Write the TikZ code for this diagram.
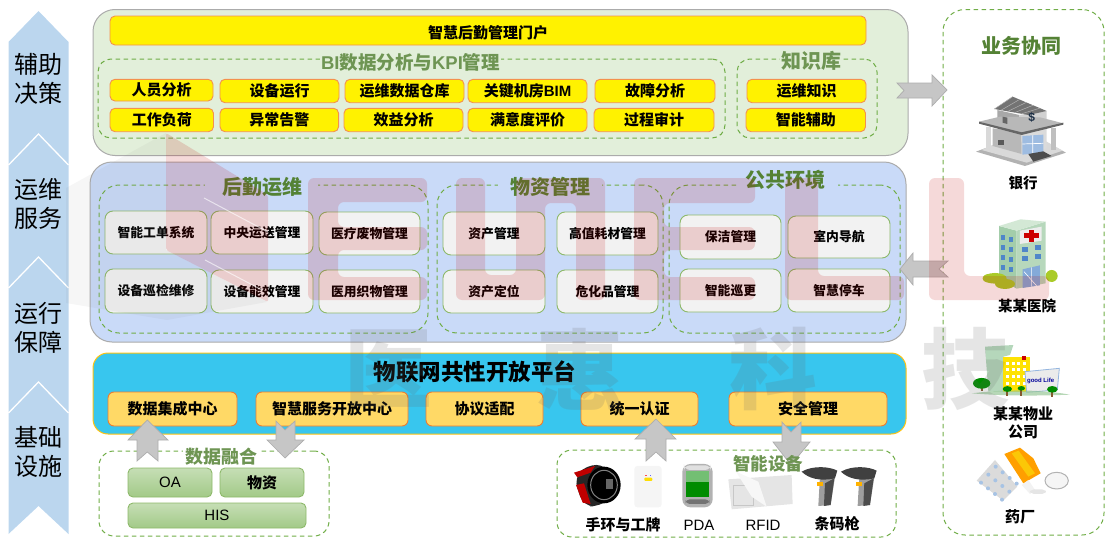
\documentclass[tikz,border=0pt]{standalone}
\usetikzlibrary{calc}
\usepackage{fontspec}
\setmainfont{Noto Sans CJK SC}
\newfontfamily\lat{Liberation Sans}
\definecolor{chev}{HTML}{BBD6EE}
\definecolor{gpanel}{HTML}{E2EFDA}
\definecolor{bpanel}{HTML}{C9DAF8}
\definecolor{cpanel}{HTML}{38C6EE}
\definecolor{edgegray}{HTML}{ABABAB}
\definecolor{dashg}{HTML}{70AD47}
\definecolor{titleg}{HTML}{548235}
\definecolor{yedge}{HTML}{F4914D}
\definecolor{oedge}{HTML}{ED7D31}
\definecolor{ofill}{HTML}{FFD966}
\definecolor{gedge}{HTML}{8DB96A}
\definecolor{arrowg}{HTML}{C6C6C6}
\definecolor{arrowe}{HTML}{ADADAD}
\definecolor{hosa}{HTML}{A3CDAA}
\definecolor{hosb}{HTML}{B7D8BC}
\definecolor{hosc}{HTML}{D3E8D5}
\definecolor{winb}{HTML}{4F86C9}
\tikzset{
  panel/.style={rounded corners=22pt,line width=1pt,draw=edgegray},
  dashbox/.style={draw=dashg,dash pattern=on 4.5pt off 3.5pt,line width=1pt},
  yellowbox/.style={draw=yedge,fill=yellow,rounded corners=5pt,line width=.9pt,font=\fontsize{15}{17}\selectfont\bfseries},
  whitebox/.style={draw=gedge,fill=black!5,rounded corners=8pt,line width=.9pt,font=\fontsize{12.8}{15}\selectfont\bfseries},
  orangebox/.style={draw=oedge,fill=ofill,rounded corners=6pt,line width=.9pt,font=\fontsize{15}{17}\selectfont\bfseries},
  greenbox/.style={draw=gedge,top color=dashg!40,bottom color=dashg!65,rounded corners=5pt,line width=.9pt,font=\fontsize{15}{17}\selectfont},
  grouptitle/.style={text=titleg,font=\fontsize{20}{22}\selectfont\bfseries,inner sep=0pt},
  softtitle/.style={text=titleg!85,inner sep=0pt},
  sidetext/.style={font=\fontsize{24}{29}\selectfont,align=center,inner sep=0pt},
  caption/.style={font=\fontsize{15}{18}\selectfont\bfseries,align=center,inner sep=0pt},
  blockarrow/.style={fill=arrowg,draw=arrowe,line width=.7pt,line join=miter},
  wmshape/.style={fill=red!75!black,fill opacity=.15,draw=none,rounded corners=6pt},
  wmtext/.style={text=black!60,text opacity=.17,font=\fontsize{88}{90}\selectfont\bfseries,inner sep=0pt},
}
\newcommand{\bx}[7]{\node[#2,inner sep=0pt,outer sep=0pt,minimum width={(#5-#3)*1pt},minimum height={(#6-#4)*1pt}] (#1) at ({(#3+#5)/2},{(#4+#6)/2}) {#7};}
\begin{document}
\begin{tikzpicture}[x=1pt,y=-1pt]
\useasboundingbox (0,0) rectangle (1114,546);
% left chevrons
\fill[chev] (8.5,42) -- (38.5,11) -- (68.5,42) -- (68.5,534) -- (38.5,506) -- (8.5,534) -- cycle;
\foreach \yy in {134,257,382}{
  \draw[white,line width=1.3pt] (8.5,\yy+31) -- (38.5,\yy) -- (68.5,\yy+31);
}
\node[sidetext] (s1) at (38.5,79) {辅助\\决策};
\node[sidetext] (s2) at (38.5,204) {运维\\服务};
\node[sidetext] (s3) at (38.5,328) {运行\\保障};
\node[sidetext] (s4) at (38.5,452) {基础\\设施};
% green panel
\bx{pg}{panel,fill=gpanel}{93}{9.5}{908}{155.5}{}
\bx{portal}{yellowbox}{110}{16}{866}{45}{\rule{0pt}{18pt}智慧后勤管理门户}
\bx{dbi}{dashbox,rounded corners=13pt}{98}{59}{725}{138}{}
\bx{dkb}{dashbox,rounded corners=13pt}{737}{59}{877}{138}{}
\node[softtitle,fill=gpanel,font=\fontsize{18.5}{22}\selectfont\bfseries,inner xsep=1pt] (tbi) at (410.5,62) {{\lat BI}数据分析与{\lat KPI}管理};
\node[softtitle,fill=gpanel,font=\fontsize{20}{22}\selectfont\bfseries,inner xsep=1pt] (tkb) at (811,61) {知识库};
\bx{a1}{yellowbox}{110}{79.3}{213}{101}{人员分析}
\bx{a2}{yellowbox}{220}{79.3}{339}{102.7}{设备运行}
\bx{a3}{yellowbox}{345}{79.3}{464}{102.7}{运维数据仓库}
\bx{a4}{yellowbox}{468}{79.3}{587}{102.7}{关键机房{\lat BIM}}
\bx{a5}{yellowbox}{595}{79.3}{715}{102.7}{故障分析}
\bx{b1}{yellowbox}{110}{108.3}{213.5}{131.7}{工作负荷}
\bx{b2}{yellowbox}{220}{108.3}{338.6}{131.7}{异常告警}
\bx{b3}{yellowbox}{344}{108.3}{463}{131.7}{效益分析}
\bx{b4}{yellowbox}{468}{108.3}{587}{131.7}{满意度评价}
\bx{b5}{yellowbox}{594}{108.3}{714}{131.7}{过程审计}
\bx{k1}{yellowbox}{747}{79.3}{866}{102.7}{运维知识}
\bx{k2}{yellowbox}{746}{108.3}{865.5}{131.7}{智能辅助}
% blue panel
\bx{pb}{panel,fill=bpanel}{90}{162}{906}{342}{}
\bx{d1}{dashbox,rounded corners=20pt}{99}{185}{428}{333}{}
\bx{d2}{dashbox,rounded corners=20pt}{437}{185}{663}{333}{}
\bx{d3}{dashbox,rounded corners=20pt}{669}{185}{900}{333}{}
\bx{g1}{fill=bpanel,draw=none}{205}{178}{318}{195}{}
\bx{g2}{fill=bpanel,draw=none}{498}{178}{602}{195}{}
\bx{g3}{fill=bpanel,draw=none}{737}{172}{838}{192}{}
\node[grouptitle] (t1) at (262,187) {后勤运维};
\node[grouptitle] (t2) at (550,187) {物资管理};
\node[grouptitle] (t3) at (785,180) {公共环境};
\bx{c1}{whitebox}{105}{211}{207}{254}{智能工单系统}
\bx{c2}{whitebox}{211}{211}{313}{254}{中央运送管理}
\bx{c3}{whitebox}{319}{212}{420}{255}{医疗废物管理}
\bx{c4}{whitebox}{105}{269}{207}{313}{设备巡检维修}
\bx{c5}{whitebox}{211}{270}{313}{313}{设备能效管理}
\bx{c6}{whitebox}{319}{270}{420}{313}{医用织物管理}
\bx{e1}{whitebox}{443}{212}{545}{255}{资产管理}
\bx{e2}{whitebox}{557}{212}{658}{255}{高值耗材管理}
\bx{e3}{whitebox}{443}{270}{545}{313}{资产定位}
\bx{e4}{whitebox}{557}{270}{658}{313}{危化品管理}
\bx{f1}{whitebox}{680}{215}{781}{259}{保洁管理}
\bx{f2}{whitebox}{788}{216}{890}{258}{室内导航}
\bx{f3}{whitebox}{680}{269}{781}{312}{智能巡更}
\bx{f4}{whitebox}{788}{269}{890}{312}{智慧停车}
% cyan panel
\bx{pc}{panel,rounded corners=15pt,fill=cpanel,draw=ofill!30!orange!60!yellow}{93}{353}{906}{434}{}
\node[inner sep=0pt,font=\fontsize{22.5}{25}\selectfont\bfseries] (tc) at (475,372) {物联网共性开放平台};
\bx{h1}{orangebox}{108}{392}{237}{426}{数据集成中心}
\bx{h2}{orangebox}{256}{392}{408}{426}{智慧服务开放中心}
\bx{h3}{orangebox}{426}{392}{543}{426}{协议适配}
\bx{h4}{orangebox}{581}{392}{698}{426}{统一认证}
\bx{h5}{orangebox}{729}{392}{887}{426}{安全管理}
% lower dashed groups
\bx{dd}{dashbox,rounded corners=15pt}{99}{451}{329}{536}{}
\bx{ds}{dashbox,rounded corners=15pt}{557}{450}{896}{537}{}
\node[softtitle,fill=white,font=\fontsize{18}{20}\selectfont\bfseries,inner xsep=2pt] (td) at (221,457) {数据融合};
\bx{o1}{greenbox}{128}{468}{212}{497}{{\lat OA}}
\bx{o2}{greenbox,font=\fontsize{15}{17}\selectfont\bfseries}{220}{468}{304}{497}{物资}
\bx{o3}{greenbox}{128}{503}{306}{528}{{\lat HIS}}
% right group
\bx{dr}{dashbox,rounded corners=22pt}{943}{9.5}{1104}{535}{}
\node[grouptitle] (tr) at (1021,46) {业务协同};
% block arrows
\draw[blockarrow] (147.3,420) -- (168,440) -- (158,440) -- (158,461) -- (147.3,452) -- (137,461) -- (137,440) -- (128,440) -- cycle;
\draw[blockarrow] (285,458) -- (304,440) -- (295,440) -- (295,421) -- (285,430) -- (276,421) -- (276,440) -- (267,440) -- cycle;
\draw[blockarrow] (656,419) -- (676,439) -- (666,439) -- (666,461) -- (656,452) -- (646,461) -- (646,439) -- (635,439) -- cycle;
\draw[blockarrow] (791,465) -- (810,442) -- (801,442) -- (801,422) -- (791,432) -- (782,422) -- (782,442) -- (773,442) -- cycle;
\draw[blockarrow] (947,90) -- (932,75) -- (932,83) -- (897,83) -- (904,90.5) -- (897,98) -- (932,98) -- (932,106) -- cycle;
\draw[blockarrow] (900,269) -- (913,253) -- (913,261) -- (948,261) -- (939,269) -- (948,277) -- (913,277) -- (913,285) -- cycle;
\node[softtitle,font=\fontsize{17.5}{20}\selectfont\bfseries] (ts) at (768,464) {智能设备};
% device icons
\begin{scope}[shift={(500,350)},x=.3333pt,y=-.3333pt]
  % watch
  \fill[black!85,rounded corners=10pt] (222,385) -- (258,345) -- (320,345) -- (350,430) -- (300,470) -- (250,468) -- cycle;
  \fill[red!75!black] (222,368) -- (285,348) -- (272,368) -- (232,382) -- cycle;
  \fill[red!75!black] (228,405) -- (252,400) -- (272,462) -- (248,458) -- cycle;
  \fill[black] (312,405) ellipse[x radius=50,y radius=55];
  \draw[black!50,line width=1pt] (312,405) ellipse[x radius=40,y radius=44];
  \fill[black!60] (318,388) rectangle (338,416);
  % badge
  \fill[black!4,rounded corners=3pt] (403,348) rectangle (485,472);
  \fill[yellow!80!orange,rounded corners=1pt] (433,383) rectangle (457,393);
  \fill[red!70] (435,374) rectangle (440,378);
  \fill[blue!60] (449,374) rectangle (454,378);
  % PDA
  \fill[black!30,rounded corners=8pt] (547,342) rectangle (638,472);
  \fill[black!12,rounded corners=6pt] (552,346) rectangle (633,360);
  \fill[green!55!black] (557,362) rectangle (628,440);
  \fill[white,opacity=.45] (557,362) rectangle (628,395);
  \fill[black!55,rounded corners=4pt] (557,448) rectangle (628,462);
  % RFID
  \fill[black!10] (685,388) -- (875,375) -- (878,462) -- (695,478) -- cycle;
  \draw[black!22,line width=.5pt] (700,405) rectangle (760,465);
  \fill[black!3] (708,365) -- (775,395) -- (800,470) -- (755,440) -- cycle;
  % scanners
  \foreach \dx in {0,118}{
    \fill[black!38] ($(960,380)+(\dx,0)$) -- ($(1005,382)+(\dx,0)$) -- ($(992,465)+(\dx,0)$) -- ($(955,468)+(\dx,0)$) -- cycle;
    \fill[black!70] ($(975,400)+(\dx,0)$) -- ($(1003,385)+(\dx,0)$) -- ($(992,465)+(\dx,0)$) -- ($(972,468)+(\dx,0)$) -- cycle;
    \fill[black!75] ($(905,365)+(\dx,0)$) .. controls ($(940,345)+(\dx,0)$) and ($(990,350)+(\dx,0)$) .. ($(1012,362)+(\dx,0)$) -- ($(1005,385)+(\dx,0)$) .. controls ($(960,395)+(\dx,0)$) and ($(925,385)+(\dx,0)$) .. cycle;
    \fill[orange!60!yellow] ($(950,395)+(\dx,0)$) rectangle ($(968,408)+(\dx,0)$);
  }
\end{scope}
\node[caption] (l1) at (623,525) {手环与工牌};
\node[caption,font=\fontsize{15}{18}\selectfont\lat] (l2) at (699,525) {PDA};
\node[caption,font=\fontsize{15}{18}\selectfont\lat] (l3) at (763,525) {RFID};
\node[caption] (l4) at (837,524) {条码枪};
% bank
\begin{scope}[shift={(900,0)},x=.3333pt,y=-.3333pt]
  \fill[black!30] (228,455) -- (300,428) -- (440,428) -- (498,458) -- (375,498) -- cycle;
  \fill[black!15] (245,450) -- (300,425) -- (440,425) -- (488,452) -- (380,488) -- cycle;
  \fill[black!28] (278,385) -- (365,395) -- (365,462) -- (278,438) -- cycle;
  \fill[black!14] (365,395) -- (440,385) -- (440,445) -- (365,462) -- cycle;
  \fill[black!34] (292,330) -- (358,345) -- (358,385) -- (292,370) -- cycle;
  \fill[black!18] (358,345) -- (440,333) -- (440,375) -- (358,385) -- cycle;
  \fill[black!55] (283,327) -- (338,290) -- (440,333) -- (385,345) -- cycle;
  \foreach \t in {0,.2,.4,.6,.8}{\draw[black!30,line width=.5pt] ($(283,327)!\t!(385,345)$) -- ($(338,290)!\t!(440,333)$);}
  \fill[black!28] (237,365) -- (300,350) -- (420,352) -- (490,370) -- (365,402) -- cycle;
  \fill[black!60] (237,365) -- (365,397) -- (490,368) -- (490,374) -- (365,405) -- (237,371) -- cycle;
  \fill[black!15] (258,380) rectangle (272,448);
  \fill[black!25] (452,383) rectangle (468,450);
  \fill[winb!55] (367,408) -- (430,404) -- (430,458) -- (367,464) -- cycle;
  \draw[white,line width=.7pt] (398,406) -- (398,461) (367,432) -- (430,430);
  \fill[black!70] (385,462) -- (430,454) -- (455,468) -- (400,485) -- cycle;
  \fill[black!60] (308,350) -- (322,353) -- (322,372) -- (308,368) -- cycle;
  \fill[black!65] (295,420) rectangle (312,435);
  \node[inner sep=0pt,text=black!65!winb,font=\fontsize{12}{12}\selectfont\bfseries\lat] (dollar) at (395,352) {\$};
  % hospital
  \fill[hosa] (297,678) -- (350,692) -- (350,866) -- (297,836) -- cycle;
  \fill[hosb] (350,692) -- (437,665) -- (437,850) -- (350,866) -- cycle;
  \fill[hosc] (297,678) -- (362,658) -- (437,665) -- (350,692) -- cycle;
  \fill[black!7] (360,692) -- (425,680) -- (425,722) -- (360,732) -- cycle;
  \fill[red!80!black] (386,690) rectangle (402,726);
  \fill[red!80!black] (373,700) rectangle (416,714);
  \foreach \yy in {705,735,765,795}{
    \fill[winb] (303,\yy) rectangle (316,\yy+16);
    \fill[winb] (326,\yy+6) rectangle (339,\yy+22);
  }
  \foreach \yy in {735,762}{
    \fill[winb] (366,\yy+6) rectangle (383,\yy+20);
    \fill[winb] (406,\yy) rectangle (422,\yy+14);
  }
  \fill[winb!70] (368,808) -- (420,796) -- (420,856) -- (368,864) -- cycle;
  \draw[white,line width=.6pt] (372,815) -- (412,860) (394,802) -- (394,860);
  \foreach \cx/\cy/\rx/\ry in {285/835/35/16,315/852/30/15,455/828/18/18,268/835/20/13}{
    \fill[yellow!70!green!90!black] (\cx,\cy) ellipse[x radius=\rx,y radius=\ry];
  }
\end{scope}
\node[caption,font=\fontsize{14.5}{18}\selectfont\bfseries] (l5) at (1023,183) {银行};
\node[caption,font=\fontsize{14.5}{18}\selectfont\bfseries] (l6) at (1027,306) {某某医院};
% property + pharmacy
\begin{scope}[shift={(920,310)},x=.3333pt,y=-.3333pt]
  \fill[hosa,opacity=.8] (195,110) -- (280,105) -- (270,135) -- (250,140) -- (250,245) -- (205,245) -- cycle;
  \fill[yellow!85!orange] (250,140) -- (330,140) -- (330,245) -- (250,245) -- cycle;
  \foreach \yy in {155,175,195,215}{\foreach \xx in {258,275,292,309}{\fill[white] (\xx,\yy) rectangle (\xx+9,\yy+9);}}
  \fill[red!80!black] (305,137) rectangle (318,150);
  \fill[black!8] (315,185) -- (418,175) -- (412,240) -- (320,247) -- cycle;
  \draw[winb!60,line width=.8pt] (315,185) -- (418,175) -- (412,240) -- (320,247) -- cycle;
  \node[inner sep=0pt,text=blue!60!black,font=\fontsize{6}{6}\selectfont\bfseries\lat] (goodlife) at (362,212) {good Life};
  \fill[green!45!black!40,opacity=.7] (155,250) .. controls (250,238) and (360,238) .. (450,254) .. controls (350,258) and (250,258) .. (155,250) -- cycle;
  \foreach \cx/\cy/\rr in {185/220/26,262/237/14,304/235/11,397/238/16}{
    \fill[brown!70!black] (\cx-3,\cy) rectangle (\cx+3,\cy+22);
    \fill[green!55!black] (\cx,\cy) ellipse[x radius=\rr,y radius=\rr*.62];
  }
  % pharmacy
  \fill[black!14] (170,512) -- (225,450) -- (292,530) -- (250,572) -- cycle;
  \foreach \i in {0,1,2,3}{\foreach \j in {0,1,2}{
    \fill[winb!50] ($(183,518)+(\j*22,-\j*24)+(\i*21,\i*17)$) circle[radius=6];}}
  \fill[orange!75!yellow] (253,432) -- (300,413) -- (340,445) -- (362,490) -- (310,520) -- cycle;
  \fill[yellow!60!orange] (275,430) -- (296,422) -- (345,490) -- (325,500) -- cycle;
  \fill[black!5] (305,525) -- (325,510) -- (345,540) -- (330,552) -- cycle;
  \fill[black!10,rounded corners=4pt] (330,538) rectangle (378,552);
  \draw[black!30,fill=black!4,line width=1pt] (410,512) ellipse[x radius=35,y radius=25];
\end{scope}
\node[caption] (l7) at (1023,422.5) {某某物业\\公司};
\node[caption] (l8) at (1020,517) {药厂};
% watermark
\fill[black!50,fill opacity=.07] (66,188) -- (166,133) -- (166,250) -- (267,302) -- (167,320) -- (66,303) -- cycle;
\fill[wmshape,rounded corners=2pt] (166,133) -- (268,195) -- (268,302) -- (166,250) -- cycle;
\draw[white,opacity=.6,line width=1pt] (204,198) -- (268,232) (205,260) -- (262,290);
\fill[wmshape] (427,202) -- (427,178) -- (308,178) -- (308,300) -- (427,300) -- (427,277) -- (338,277) -- (338,250) -- (427,250) -- (427,227) -- (338,227) -- (338,202) -- cycle;
\fill[wmshape] (456,178) -- (485,178) -- (485,275) -- (516,275) -- (516,178) -- (605,178) -- (605,300) -- (576,300) -- (576,203) -- (545,203) -- (545,300) -- (456,300) -- cycle;
\fill[wmshape] (755,203) -- (755,178) -- (634,178) -- (634,300) -- (755,300) -- (755,277) -- (664,277) -- (664,250) -- (755,250) -- (755,227) -- (664,227) -- (664,203) -- cycle;
\fill[wmshape] (785,178) -- (818,178) -- (818,276) -- (904,276) -- (904,300) -- (785,300) -- cycle;
\fill[wmshape] (929,178) -- (964,178) -- (964,276) -- (1049,276) -- (1049,300) -- (929,300) -- cycle;
\node[wmtext] (w1) at (388,369) {医};
\node[wmtext] (w2) at (580,369) {惠};
\node[wmtext] (w3) at (773,369) {科};
\node[wmtext] (w4) at (965,369) {技};
\end{tikzpicture}
\end{document}
